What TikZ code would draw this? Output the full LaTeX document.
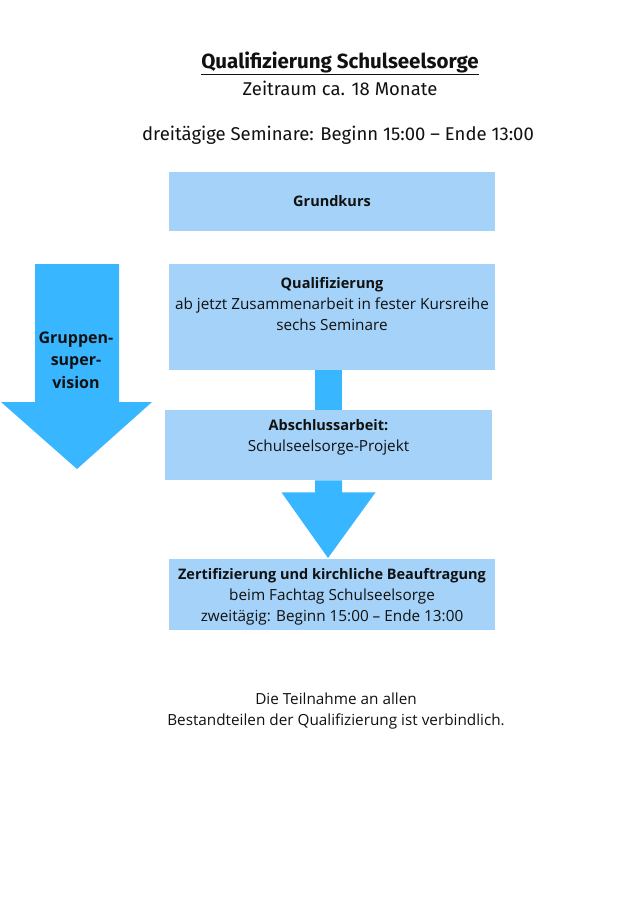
\documentclass[tikz,border=0pt]{standalone}
\usepackage{fontspec}
\setmainfont{Open Sans}
\newfontfamily\headfont{Fira Sans}
\usetikzlibrary{calc}
\definecolor{boxblue}{HTML}{A4D2F8}
\definecolor{arrowblue}{HTML}{38B6FF}
\definecolor{ink}{HTML}{111111}
\newcommand{\stagehead}[1]{{\fontsize{14.5}{21}\selectfont\bfseries #1}}

\begin{document}
\begin{tikzpicture}[x=1pt,y=-1pt,
  stage/.style={fill=boxblue, inner sep=0pt, minimum width=326pt, align=center},
  body/.style={text=ink, align=center, inner sep=0pt, font=\fontsize{15.3}{21}\selectfont},
  head/.style={text=ink, inner sep=0pt, font=\headfont\fontsize{18.5}{22}\selectfont}]
\useasboundingbox[fill=white] (0,0) rectangle (635,897);
% header
\node[head, font=\headfont\bfseries\fontsize{20.5}{22}\selectfont] (title) at (340,63) {\underline{Qualifizierung Schulseelsorge}};
\node[head] (period) at (340,88) {Zeitraum ca. 18 Monate};
\node[head] (seminars) at (338,135) {dreitägige Seminare: Beginn 15:00 – Ende 13:00};
% stages
\node[stage, minimum height=59pt, body] (grund) at (332,201.5) {\stagehead{Grundkurs}};
\node[stage, minimum height=106pt, anchor=north] (qual) at (332,264) {};
\node[body, below=13pt] (qualtext) at (qual.north) {\stagehead{Qualifizierung}\\ab jetzt Zusammenarbeit in fester Kursreihe\\sechs Seminare};
\node[stage, minimum width=327pt, minimum height=70pt, anchor=north] (absch) at (328.5,410) {};
\node[body, below=9pt] (abschtext) at (absch.north) {\stagehead{Abschlussarbeit:}\\Schulseelsorge-Projekt};
\node[stage, minimum height=71pt, anchor=north] (zert) at (332,559) {};
\node[body] (zerttext) at ($(zert.center)+(0,2)$) {\stagehead{Zertifizierung und kirchliche Beauftragung}\\beim Fachtag Schulseelsorge\\zweitägig: Beginn 15:00 – Ende 13:00};
% arrows
\fill[arrowblue] ($(qual.south)+(-17,0)$) rectangle ($(absch.north)+(13.5,0)$);
\coordinate (tip) at ($(zert.north)+(-4,-1)$);
\fill[arrowblue] ($(absch.south)+(-13.5,0)$) -- ($(absch.south)+(-13.5,12)$) -- ($(absch.south)+(-47,12)$) -- (tip)
  -- ($(absch.south)+(47,12)$) -- ($(absch.south)+(13.5,12)$) -- ($(absch.south)+(13.5,0)$) -- cycle;
% Gruppensupervision
\fill[arrowblue] (35,264) -- (119,264) -- (119,402) -- (152,402) -- (77,469) -- (1,402) -- (35,402) -- cycle;
\node[body, font=\bfseries\fontsize{16}{22.5}\selectfont] (gsv) at (76,360) {Gruppen-\\super-\\vision};
% note
\node[body] (note) at (336,711) {Die Teilnahme an allen\\Bestandteilen der Qualifizierung ist verbindlich.};
\end{tikzpicture}
\end{document}
